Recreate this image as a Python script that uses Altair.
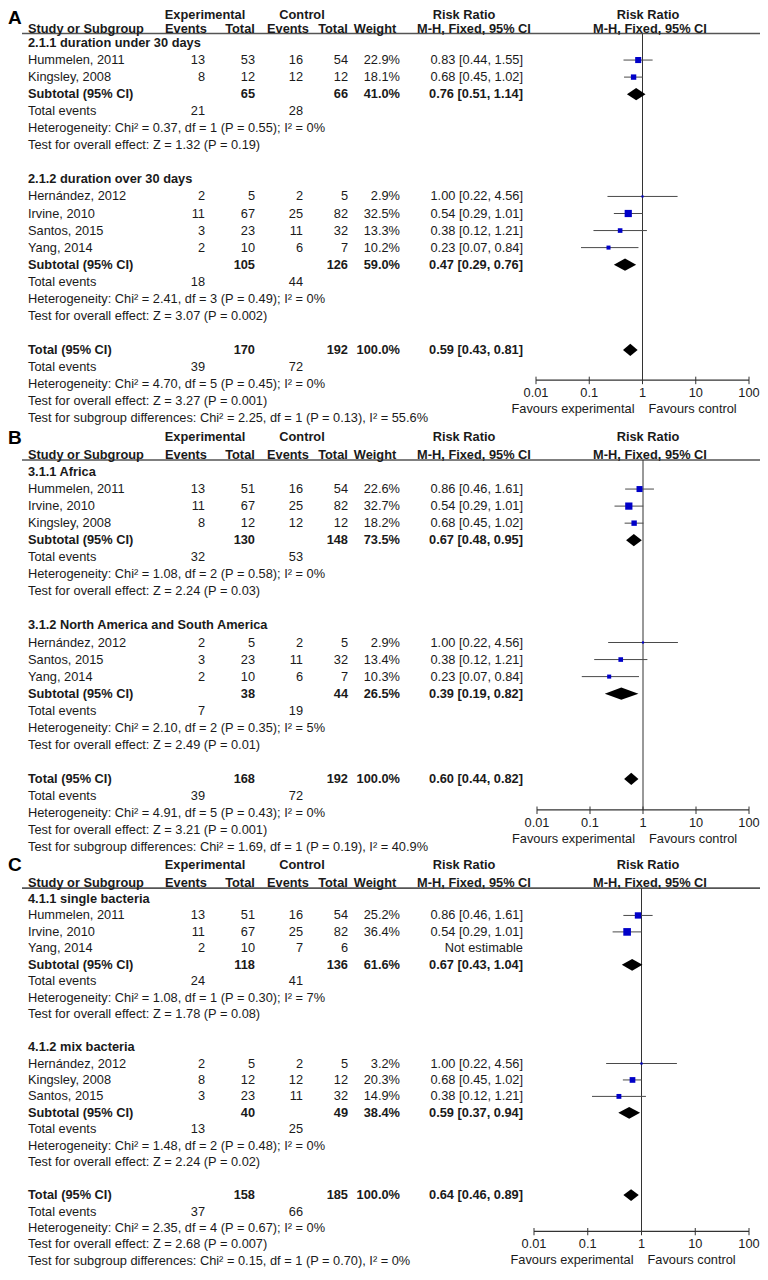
import altair as alt
import pandas as pd

_ = None
FONT = "Liberation Sans"
TXT = "#1a1a1a"
FS = 12.8

# ---------------- Panel A ----------------
A_LABEL = [
    "2.1.1 duration under 30 days", "Hummelen, 2011", "Kingsley, 2008", "Subtotal (95% CI)",
    "Total events", "Heterogeneity: Chi² = 0.37, df = 1 (P = 0.55); I² = 0%",
    "Test for overall effect: Z = 1.32 (P = 0.19)", "",
    "2.1.2 duration over 30 days", "Hernández, 2012", "Irvine, 2010", "Santos, 2015", "Yang, 2014",
    "Subtotal (95% CI)", "Total events", "Heterogeneity: Chi² = 2.41, df = 3 (P = 0.49); I² = 0%",
    "Test for overall effect: Z = 3.07 (P = 0.002)", "",
    "Total (95% CI)", "Total events", "Heterogeneity: Chi² = 4.70, df = 5 (P = 0.45); I² = 0%",
    "Test for overall effect: Z = 3.27 (P = 0.001)",
    "Test for subgroup differences: Chi² = 2.25, df = 1 (P = 0.13), I² = 55.6%",
]
A_KIND = ["head", "study", "study", "sub", "events", "note", "note", "blank",
          "head", "study", "study", "study", "study", "sub", "events", "note", "note", "blank",
          "total", "events", "note", "note", "note"]
A_EE = [_, 13, 8, _, 21, _, _, _, _, 2, 11, 3, 2, _, 18, _, _, _, _, 39, _, _, _]
A_ET = [_, 53, 12, 65, _, _, _, _, _, 5, 67, 23, 10, 105, _, _, _, _, 170, _, _, _, _]
A_CE = [_, 16, 12, _, 28, _, _, _, _, 2, 25, 11, 6, _, 44, _, _, _, _, 72, _, _, _]
A_CT = [_, 54, 12, 66, _, _, _, _, _, 5, 82, 32, 7, 126, _, _, _, _, 192, _, _, _, _]
A_W = [_, 22.9, 18.1, 41.0, _, _, _, _, _, 2.9, 32.5, 13.3, 10.2, 59.0, _, _, _, _, 100.0, _, _, _, _]
A_EST = [_, 0.83, 0.68, 0.76, _, _, _, _, _, 1.00, 0.54, 0.38, 0.23, 0.47, _, _, _, _, 0.59, _, _, _, _]
A_LO = [_, 0.44, 0.45, 0.51, _, _, _, _, _, 0.22, 0.29, 0.12, 0.07, 0.29, _, _, _, _, 0.43, _, _, _, _]
A_HI = [_, 1.55, 1.02, 1.14, _, _, _, _, _, 4.56, 1.01, 1.21, 0.84, 0.76, _, _, _, _, 0.81, _, _, _, _]

# ---------------- Panel B ----------------
KIND_BC = ["head", "study", "study", "study", "sub", "events", "note", "note", "blank",
           "head", "study", "study", "study", "sub", "events", "note", "note", "blank",
           "total", "events", "note", "note", "note"]
B_LABEL = [
    "3.1.1 Africa", "Hummelen,  2011", "Irvine, 2010", "Kingsley, 2008", "Subtotal (95% CI)",
    "Total events", "Heterogeneity: Chi² = 1.08, df = 2 (P = 0.58); I² = 0%",
    "Test for overall effect: Z = 2.24 (P = 0.03)", "",
    "3.1.2 North America and South America", "Hernández, 2012", "Santos,  2015", "Yang, 2014",
    "Subtotal (95% CI)", "Total events", "Heterogeneity: Chi² = 2.10, df = 2 (P = 0.35); I² = 5%",
    "Test for overall effect: Z = 2.49 (P = 0.01)", "",
    "Total (95% CI)", "Total events", "Heterogeneity: Chi² = 4.91, df = 5 (P = 0.43); I² = 0%",
    "Test for overall effect: Z = 3.21 (P = 0.001)",
    "Test for subgroup differences: Chi² = 1.69, df = 1 (P = 0.19), I² = 40.9%",
]
B_EE = [_, 13, 11, 8, _, 32, _, _, _, _, 2, 3, 2, _, 7, _, _, _, _, 39, _, _, _]
B_ET = [_, 51, 67, 12, 130, _, _, _, _, _, 5, 23, 10, 38, _, _, _, _, 168, _, _, _, _]
B_CE = [_, 16, 25, 12, _, 53, _, _, _, _, 2, 11, 6, _, 19, _, _, _, _, 72, _, _, _]
B_CT = [_, 54, 82, 12, 148, _, _, _, _, _, 5, 32, 7, 44, _, _, _, _, 192, _, _, _, _]
B_W = [_, 22.6, 32.7, 18.2, 73.5, _, _, _, _, _, 2.9, 13.4, 10.3, 26.5, _, _, _, _, 100.0, _, _, _, _]
B_EST = [_, 0.86, 0.54, 0.68, 0.67, _, _, _, _, _, 1.00, 0.38, 0.23, 0.39, _, _, _, _, 0.60, _, _, _, _]
B_LO = [_, 0.46, 0.29, 0.45, 0.48, _, _, _, _, _, 0.22, 0.12, 0.07, 0.19, _, _, _, _, 0.44, _, _, _, _]
B_HI = [_, 1.61, 1.01, 1.02, 0.95, _, _, _, _, _, 4.56, 1.21, 0.84, 0.82, _, _, _, _, 0.82, _, _, _, _]

# ---------------- Panel C ----------------
C_LABEL = [
    "4.1.1 single bacteria", "Hummelen, 2011", "Irvine, 2010", "Yang, 2014", "Subtotal (95% CI)",
    "Total events", "Heterogeneity: Chi² = 1.08, df = 1 (P = 0.30); I² = 7%",
    "Test for overall effect: Z = 1.78 (P = 0.08)", "",
    "4.1.2 mix bacteria", "Hernández, 2012", "Kingsley, 2008", "Santos, 2015",
    "Subtotal (95% CI)", "Total events", "Heterogeneity: Chi² = 1.48, df = 2 (P = 0.48); I² = 0%",
    "Test for overall effect: Z = 2.24 (P = 0.02)", "",
    "Total (95% CI)", "Total events", "Heterogeneity: Chi² = 2.35, df = 4 (P = 0.67); I² = 0%",
    "Test for overall effect: Z = 2.68 (P = 0.007)",
    "Test for subgroup differences: Chi² = 0.15, df = 1 (P = 0.70), I² = 0%",
]
C_EE = [_, 13, 11, 2, _, 24, _, _, _, _, 2, 8, 3, _, 13, _, _, _, _, 37, _, _, _]
C_ET = [_, 51, 67, 10, 118, _, _, _, _, _, 5, 12, 23, 40, _, _, _, _, 158, _, _, _, _]
C_CE = [_, 16, 25, 7, _, 41, _, _, _, _, 2, 12, 11, _, 25, _, _, _, _, 66, _, _, _]
C_CT = [_, 54, 82, 6, 136, _, _, _, _, _, 5, 12, 32, 49, _, _, _, _, 185, _, _, _, _]
C_W = [_, 25.2, 36.4, _, 61.6, _, _, _, _, _, 3.2, 20.3, 14.9, 38.4, _, _, _, _, 100.0, _, _, _, _]
C_EST = [_, 0.86, 0.54, _, 0.67, _, _, _, _, _, 1.00, 0.68, 0.38, 0.59, _, _, _, _, 0.64, _, _, _, _]
C_LO = [_, 0.46, 0.29, _, 0.43, _, _, _, _, _, 0.22, 0.45, 0.12, 0.37, _, _, _, _, 0.46, _, _, _, _]
C_HI = [_, 1.61, 1.01, _, 1.04, _, _, _, _, _, 4.56, 1.02, 1.21, 0.94, _, _, _, _, 0.89, _, _, _, _]

TICKS = [0.01, 0.1, 1, 10, 100]
TICK_LABELS = ["0.01", "0.1", "1", "10", "100"]


def fmt_int(v):
    return "" if v is None else str(int(v))


def build_df(labels, kinds, ee, et, ce, ct, w, est, lo, hi):
    n = len(labels)
    for arr in (kinds, ee, et, ce, ct, w, est, lo, hi):
        assert len(arr) == n
    recs = []
    for i in range(n):
        if est[i] is not None:
            rr = f"{est[i]:.2f} [{lo[i]:.2f}, {hi[i]:.2f}]"
        elif kinds[i] == "study":
            rr = "Not estimable"
        else:
            rr = ""
        recs.append(dict(
            row=i, label=labels[i], kind=kinds[i],
            bold=kinds[i] in ("head", "sub", "total"),
            ee=fmt_int(ee[i]), et=fmt_int(et[i]), ce=fmt_int(ce[i]), ct=fmt_int(ct[i]),
            wt="" if w[i] is None else f"{w[i]:.1f}%",
            rr=rr, w=w[i], est=est[i], lo=lo[i], hi=hi[i],
        ))
    return pd.DataFrame(recs)


def diamond_df(df, half=0.36):
    recs = []
    for idx, r in df[df["kind"].isin(["sub", "total"])].iterrows():
        recs.append(dict(id=int(r["row"]), x=r["lo"], y1=r["row"], y2=r["row"]))
        recs.append(dict(id=int(r["row"]), x=r["est"], y1=r["row"] - half, y2=r["row"] + half))
        recs.append(dict(id=int(r["row"]), x=r["hi"], y1=r["row"], y2=r["row"]))
    return pd.DataFrame(recs)


COLS = [("label", 20, "left"), ("ee", 197, "right"), ("et", 247, "right"),
        ("ce", 295, "right"), ("ct", 340, "right"), ("wt", 392, "right"), ("rr", 515, "right")]

HEAD1 = [("Experimental", 197), ("Control", 294), ("Risk Ratio", 456), ("Risk Ratio", 640)]
HEAD2 = [("Study or Subgroup", 20, "left"), ("Events", 178, "center"), ("Total", 232, "center"),
         ("Events", 280, "center"), ("Total", 325, "center"), ("Weight", 367, "center"),
         ("M-H, Fixed, 95% CI", 466, "center"), ("M-H, Fixed, 95% CI", 642, "center")]


def panel(letter, df, y0, step, xr, head1_row, head2_row, line_row, letter_row, axis_row):
    ys = alt.Scale(domain=[0, 22], range=[y0, y0 + 22 * step], nice=False, zero=False)
    xs = alt.Scale(type="log", domain=[0.01, 100], range=list(xr), nice=False)

    def Y(f):
        return alt.Y(f, scale=ys, axis=None)

    def X(f):
        return alt.X(f, scale=xs, axis=None)

    layers = []
    # header underline
    layers.append(alt.Chart(pd.DataFrame({"r": [line_row]})).mark_rule(
        color="#555555", strokeWidth=1.6).encode(x=alt.value(14), x2=alt.value(752), y=Y("r:Q")))
    # vertical no-effect line
    layers.append(alt.Chart(pd.DataFrame({"v": [1], "r1": [line_row], "r2": [axis_row]})).mark_rule(
        color="#333333", strokeWidth=1).encode(x=X("v:Q"), y=Y("r1:Q"), y2="r2:Q"))
    # axis line
    layers.append(alt.Chart(pd.DataFrame({"a": [TICKS[0]], "b": [TICKS[-1]], "r": [axis_row]})).mark_rule(
        color="#333333", strokeWidth=1.2).encode(x=X("a:Q"), x2="b:Q", y=Y("r:Q")))
    tick_df = pd.DataFrame({"t": TICKS, "lab": TICK_LABELS,
                            "r1": [axis_row - 0.2] * len(TICKS), "r2": [axis_row + 0.24] * len(TICKS),
                            "rl": [axis_row + 0.78] * len(TICKS)})
    layers.append(alt.Chart(tick_df).mark_rule(color="#333333", strokeWidth=1).encode(
        x=X("t:Q"), y=Y("r1:Q"), y2="r2:Q"))
    layers.append(alt.Chart(tick_df).mark_text(font=FONT, fontSize=FS, color=TXT).encode(
        x=X("t:Q"), y=Y("rl:Q"), text="lab:N"))
    fav = pd.DataFrame({"v": [1], "r": [axis_row + 1.72]})
    layers.append(alt.Chart(fav).mark_text(text="Favours experimental", align="right", dx=-8,
                                           font=FONT, fontSize=FS, color=TXT).encode(x=X("v:Q"), y=Y("r:Q")))
    layers.append(alt.Chart(fav).mark_text(text="Favours control", align="left", dx=6,
                                           font=FONT, fontSize=FS, color=TXT).encode(x=X("v:Q"), y=Y("r:Q")))

    base = alt.Chart(df)
    # confidence intervals
    layers.append(base.transform_filter("datum.kind == 'study' && isValid(datum.est)").mark_rule(
        color="#4a4a4a", strokeWidth=1).encode(x=X("lo:Q"), x2="hi:Q", y=Y("row:Q")))
    # weight squares
    layers.append(base.transform_filter("datum.kind == 'study' && isValid(datum.est)").mark_square(
        color="#0000c8", opacity=1, filled=True).encode(
        x=X("est:Q"), y=Y("row:Q"),
        size=alt.Size("w:Q", scale=alt.Scale(domain=[0, 40], range=[0, 64]), legend=None)))
    # pooled diamonds
    layers.append(alt.Chart(diamond_df(df)).mark_area(color="black", orient="vertical", opacity=1).encode(
        x=X("x:Q"), y=Y("y1:Q"), y2="y2:Q", detail="id:N"))

    # table text
    for field, px, al in COLS:
        for b in (False, True):
            layers.append(base.transform_filter("datum.bold" if b else "!datum.bold").mark_text(
                align=al, font=FONT, fontSize=FS, fontWeight="bold" if b else "normal",
                color=TXT).encode(x=alt.value(px), y=Y("row:Q"), text=f"{field}:N"))

    # headers
    for t, px in HEAD1:
        layers.append(alt.Chart(pd.DataFrame({"r": [head1_row]})).mark_text(
            text=t, align="center", font=FONT, fontSize=FS, fontWeight="bold", color=TXT).encode(
            x=alt.value(px), y=Y("r:Q")))
    for t, px, al in HEAD2:
        layers.append(alt.Chart(pd.DataFrame({"r": [head2_row]})).mark_text(
            text=t, align=al, font=FONT, fontSize=FS, fontWeight="bold", color=TXT).encode(
            x=alt.value(px), y=Y("r:Q")))
    layers.append(alt.Chart(pd.DataFrame({"r": [letter_row]})).mark_text(
        text=letter, align="left", font=FONT, fontSize=19, fontWeight="bold", color="#000000").encode(
        x=alt.value(0), y=Y("r:Q")))

    return alt.layer(*layers)


dfA = build_df(A_LABEL, A_KIND, A_EE, A_ET, A_CE, A_CT, A_W, A_EST, A_LO, A_HI)
dfB = build_df(B_LABEL, KIND_BC, B_EE, B_ET, B_CE, B_CT, B_W, B_EST, B_LO, B_HI)
dfC = build_df(C_LABEL, KIND_BC, C_EE, C_ET, C_CE, C_CT, C_W, C_EST, C_LO, C_HI)

pA = panel("A", dfA, 35, 17.05, (528, 741), -1.67, -0.82, -0.56, -1.47, 19.77)
pB = panel("B", dfB, 464, 17.05, (529, 741), -2.05, -1.0, -0.70, -2.0, 19.82)
pC = panel("C", dfC, 891, 16.45, (526, 741), -2.05, -0.97, -0.66, -2.05, 20.2)

chart = alt.layer(pA, pB, pC).resolve_scale(x="independent", y="independent").properties(
    width=752, height=1262, padding=0,
    autosize=alt.AutoSizeParams(type="none"),
).configure_view(stroke=None)

chart.save("out.html", embed_options={"renderer": "svg", "actions": False})
